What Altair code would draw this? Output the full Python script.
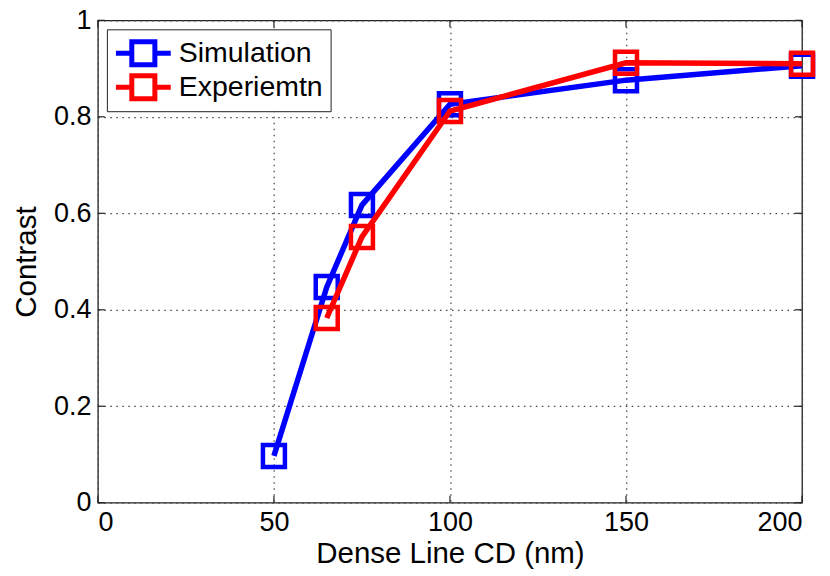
import altair as alt
import pandas as pd

# ---- data ----
sim_cd = [50, 65, 75, 100, 150, 200]
sim_contrast = [0.097, 0.447, 0.617, 0.826, 0.876, 0.906]
exp_cd = [65, 75, 100, 150, 200]
exp_contrast = [0.383, 0.551, 0.812, 0.912, 0.910]
series = ["Simulation", "Experiemtn"]
colors = ["#0000ff", "#ff0000"]
x_ticks = [0, 50, 100, 150, 200]
y_ticks = [0, 0.2, 0.4, 0.6, 0.8, 1]

W, H = 705, 483
FONT = "Liberation Sans"
TL = 7  # inward tick length (px)

df = pd.DataFrame({
    "cd": sim_cd + exp_cd,
    "contrast": sim_contrast + exp_contrast,
    "series": [series[0]] * len(sim_cd) + [series[1]] * len(exp_cd),
})
xt = pd.DataFrame({"t": x_ticks})
yt = pd.DataFrame({"t": y_ticks})

xscale = alt.Scale(domain=[0, 200], nice=False, zero=False)
yscale = alt.Scale(domain=[0, 1], nice=False, zero=False)

x_enc = alt.X("cd:Q", scale=xscale, axis=alt.Axis(
    values=x_ticks, title="Dense Line CD (nm)", labelPadding=7, titlePadding=4))
y_enc = alt.Y("contrast:Q", scale=yscale, axis=alt.Axis(
    values=y_ticks, title="Contrast", labelExpr="format(datum.value, '.1~f')",
    labelPadding=7, titlePadding=12))

legend_path = ("M-1.83,0L-0.77,0M0.77,0L1.83,0"
               "M-0.77,-0.77L0.77,-0.77L0.77,0.77L-0.77,0.77Z")
color_enc = alt.Color("series:N", scale=alt.Scale(domain=series, range=colors),
                      legend=alt.Legend(
                          title=None, orient="none", legendX=9, legendY=9,
                          symbolType=legend_path, symbolSize=900,
                          symbolStrokeWidth=5, symbolOffset=12,
                          labelOffset=18, labelFontSize=28.5, labelFont=FONT,
                          labelColor="black", rowPadding=0, padding=7,
                          clipHeight=34,
                          fillColor="white", strokeColor="#222"))

layers = []
for s in series:
    base = alt.Chart(df).transform_filter(alt.datum.series == s)
    layers.append(base.mark_line(strokeWidth=5.5).encode(x=x_enc, y=y_enc, color=color_enc))
    layers.append(base.mark_point(shape="square", filled=False, size=484, strokeWidth=4.5, opacity=1)
                  .encode(x=x_enc, y=y_enc, color=color_enc))

tick_style = dict(color="#222", strokeWidth=1.2)
xb = alt.Chart(xt).mark_rule(**tick_style).encode(
    x=alt.X("t:Q", scale=xscale), y=alt.value(H - TL), y2=alt.value(H))
xtp = alt.Chart(xt).mark_rule(**tick_style).encode(
    x=alt.X("t:Q", scale=xscale), y=alt.value(0), y2=alt.value(TL))
yl = alt.Chart(yt).mark_rule(**tick_style).encode(
    y=alt.Y("t:Q", scale=yscale), x=alt.value(0), x2=alt.value(TL))
yr = alt.Chart(yt).mark_rule(**tick_style).encode(
    y=alt.Y("t:Q", scale=yscale), x=alt.value(W - TL), x2=alt.value(W))

chart = alt.layer(xb, xtp, yl, yr, *layers).properties(
    width=W, height=H,
    autosize=alt.AutoSizeParams(type="none"),
    padding={"left": 90, "top": 12, "right": 20, "bottom": 66},
    background="white",
).configure_view(
    stroke="#222", strokeWidth=1.3
).configure_axis(
    domain=False, ticks=False, grid=True, gridDash=[1.5, 4.5],
    gridColor="#444", gridWidth=1.2,
    labelFont=FONT, labelFontSize=27, labelColor="black",
    titleFont=FONT, titleFontSize=29.5, titleFontWeight="normal", titleColor="black",
)

chart.save("out.html", embed_options={"renderer": "svg", "actions": False})
